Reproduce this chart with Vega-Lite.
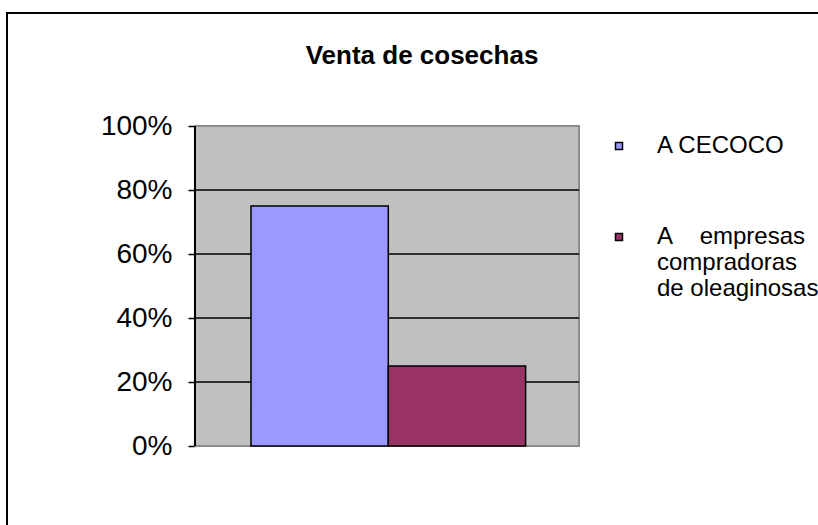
{
  "$schema": "https://vega.github.io/schema/vega-lite/v6.json",
  "width": 814,
  "height": 515,
  "autosize": "none",
  "padding": {"left": 7, "top": 13, "right": 0, "bottom": 0},
  "background": "white",
  "config": {
    "view": {"stroke": "black", "strokeWidth": 2},
    "font": "Liberation Sans"
  },
  "title": {
    "text": "Venta de cosechas",
    "font": "Liberation Sans",
    "fontSize": 26,
    "fontWeight": "bold",
    "color": "black",
    "anchor": "middle",
    "frame": "group",
    "baseline": "alphabetic",
    "offset": -49,
    "dx": 8,
    "dy": 28
  },
  "data": {
    "values": [
      {"serie": "A CECOCO", "valor": 0.75},
      {"serie": "A empresas compradoras de oleaginosas", "valor": 0.25}
    ]
  },
  "resolve": {"scale": {"x": "independent"}},
  "layer": [
    {
      "layer": [
        {
          "mark": {"type": "rect", "fill": "#C0C0C0", "stroke": "#808080", "strokeWidth": 1.5},
          "encoding": {
            "x": {"datum": -0.408, "type": "quantitative", "scale": {"domain": [-1.777, 4.151], "nice": false, "zero": false}, "axis": null},
            "x2": {"datum": 2.389},
            "y": {"datum": 0, "type": "quantitative", "scale": {"domain": [-0.25625, 1.353125], "nice": false, "zero": false},
              "axis": {"values": [0, 0.2, 0.4, 0.6, 0.8, 1], "format": ".0%", "offset": -188, "domain": false, "grid": false,
                "ticks": true, "tickSize": 7, "tickColor": "black", "tickWidth": 1.5, "labelFontSize": 28, "labelFont": "Liberation Sans",
                "labelColor": "black", "labelPadding": 16, "title": null}},
            "y2": {"datum": 1}
          }
        },
        {
          "data": {"values": [{"t": 0.2}, {"t": 0.4}, {"t": 0.6}, {"t": 0.8}]},
          "mark": {"type": "rule", "stroke": "black", "strokeWidth": 1.5},
          "encoding": {
            "x": {"datum": -0.408, "type": "quantitative", "axis": null},
            "x2": {"datum": 2.389},
            "y": {"field": "t", "type": "quantitative"}
          }
        },
        {
          "mark": {"type": "rule", "stroke": "black", "strokeWidth": 2},
          "encoding": {
            "x": {"datum": -0.408, "type": "quantitative", "axis": null},
            "y": {"datum": 0, "type": "quantitative"},
            "y2": {"datum": 1}
          }
        }
      ]
    },
    {
      "mark": {"type": "bar", "stroke": "black", "strokeWidth": 1.5},
      "encoding": {
        "x": {"field": "serie", "type": "nominal", "sort": null,
          "scale": {"paddingInner": 0, "paddingOuter": 0, "range": [244, 518.6]}, "axis": null},
        "y": {"field": "valor", "type": "quantitative"},
        "y2": {"datum": 0},
        "color": {"field": "serie", "type": "nominal", "sort": null,
          "scale": {"range": ["#9999FF", "#993366"]},
          "legend": {
            "title": null, "orient": "none", "legendX": 600, "legendY": 121,
            "symbolType": "square", "symbolSize": 49, "symbolStrokeColor": "black", "symbolStrokeWidth": 1.5,
            "labelFont": "Liberation Sans", "labelFontSize": 24, "labelColor": "black", "labelOffset": 26,
            "labelLimit": 300, "rowPadding": 67, "padding": 0,
            "labelExpr": "datum.label == 'A CECOCO' ? datum.label : ['A\u00a0\u00a0\u00a0 empresas', 'compradoras', 'de oleaginosas']"
          }}
      }
    }
  ]
}
